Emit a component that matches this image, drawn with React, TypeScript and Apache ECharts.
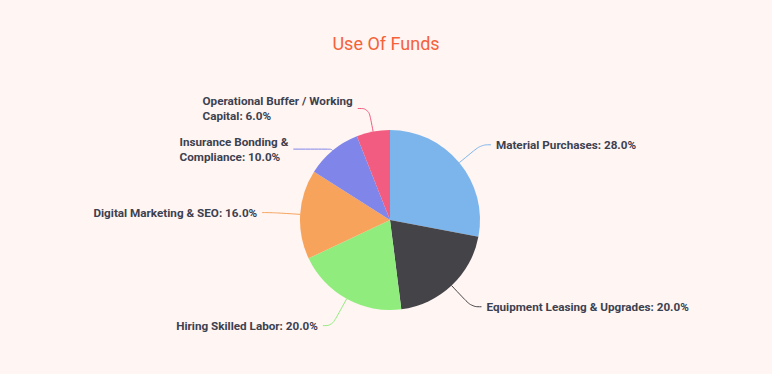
import React, { useEffect, useRef } from "react";
import * as echarts from "echarts";

const categories = [
  "Material Purchases",
  "Equipment Leasing & Upgrades",
  "Hiring Skilled Labor",
  "Digital Marketing & SEO",
  "Insurance Bonding & Compliance",
  "Operational Buffer / Working Capital",
];
const values = [28, 20, 20, 16, 10, 6];
const colors = ["#7cb5ec", "#434348", "#90ed7d", "#f7a35c", "#8085e9", "#f15c80"];
// number of words on the first label line (0 = single line)
const breakAfterWords = [0, 0, 0, 0, 3, 4];

const lineLen = [28, 29, 30.5, 28, 2, 23.5];
const lineLen2 = [10, 10, 9, 10, 38, 11];

export default function App() {
  const ref = useRef<HTMLDivElement>(null);
  useEffect(() => {
    if (!ref.current) return;
    const chart = echarts.init(ref.current, null, { renderer: "svg" });
    const font = {
      fontFamily: "Roboto",
      fontSize: 11.7,
      fontWeight: "bold" as const,
      color: "#3c4150",
      lineHeight: 15,
    };
    chart.setOption({
      animation: false,
      backgroundColor: "#fff5f2",
      title: {
        text: "Use Of Funds",
        left: "center",
        top: 29,
        textStyle: {
          color: "#f4623a",
          fontSize: 18,
          fontWeight: "normal",
          fontFamily: "Roboto",
        },
      },
      series: [
        {
          type: "pie",
          radius: 90,
          center: [390, 220],
          startAngle: 90,
          clockwise: true,
          avoidLabelOverlap: false,
          data: categories.map((name, i) => ({
            name,
            value: values[i],
            itemStyle: { color: colors[i] },
            labelLine: { length: lineLen[i], length2: lineLen2[i] },
          })),
          label: {
            show: true,
            ...font,
            formatter: (p: any) => {
              const text = `${p.name}: ${p.percent.toFixed(1)}%`;
              const n = breakAfterWords[p.dataIndex];
              if (!n) return `{a|${text}}`;
              const words = text.split(" ");
              return `{a|${words.slice(0, n).join(" ")}}\n{a|${words
                .slice(n)
                .join(" ")}}`;
            },
            rich: { a: { ...font, align: "left" } },
          },
          labelLine: {
            show: true,
            smooth: 0.4,
            lineStyle: { width: 1 },
          },
          emphasis: { disabled: true },
        },
      ],
    });
    return () => chart.dispose();
  }, []);
  return (
    <div
      ref={ref}
      style={{ position: "fixed", left: 0, top: 0, width: 772, height: 374 }}
    />
  );
}
